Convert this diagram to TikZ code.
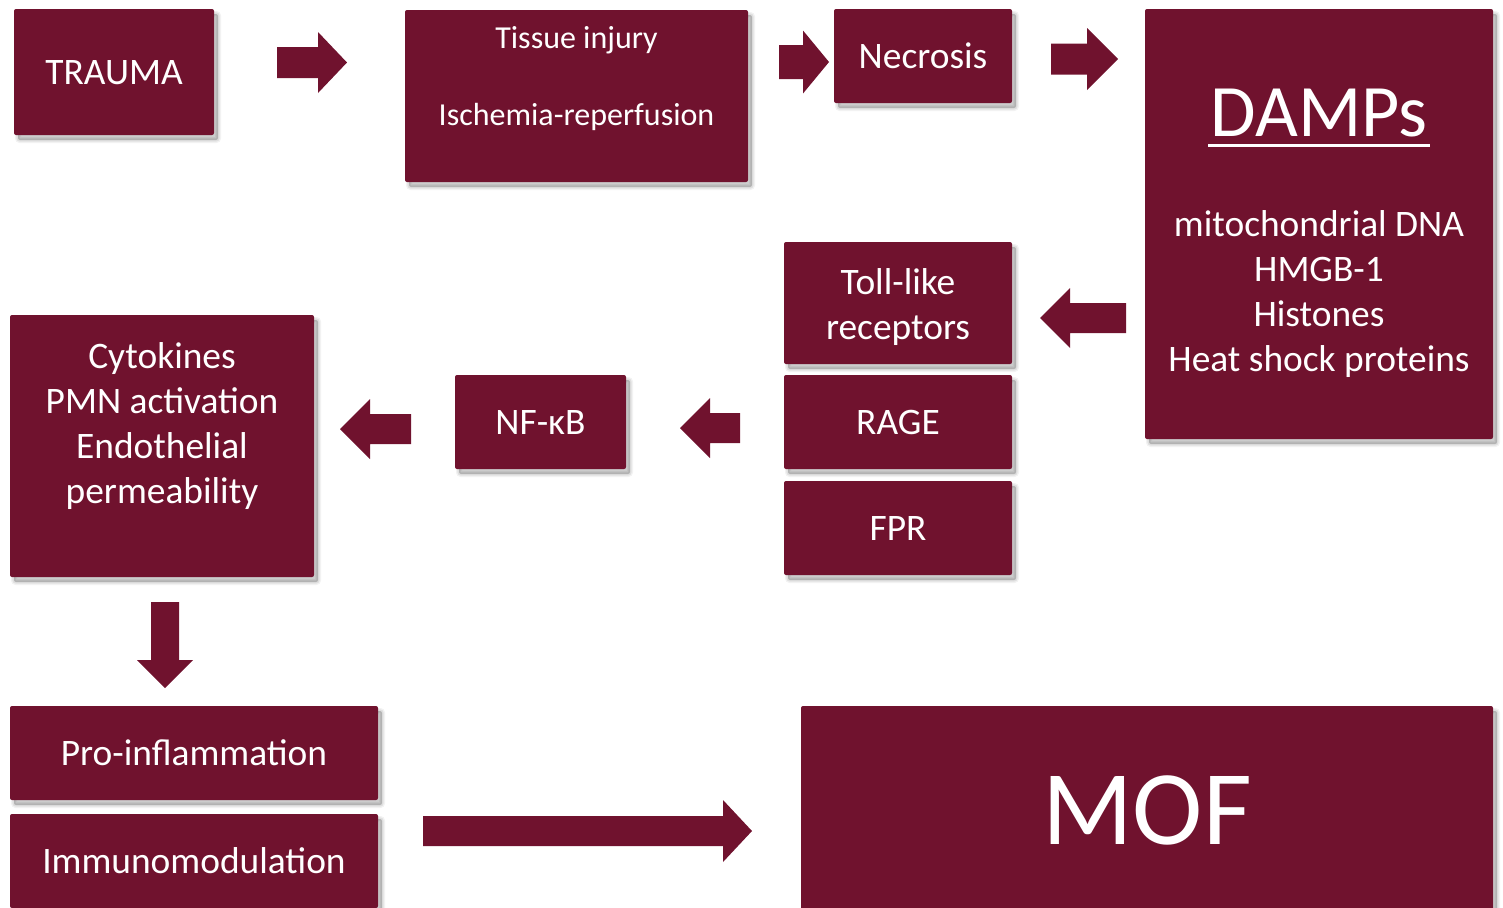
\documentclass[tikz,border=0pt]{standalone}
\usepackage{fontspec}
\setmainfont{Carlito}
\usetikzlibrary{shadows}
\definecolor{wine}{RGB}{112,18,46}
\newcommand\blockH[6]{\fill[wine] (#1,#2-#5) -- (#3,#2-#5) -- (#3,#2-#6) -- (#4,#2) -- (#3,#2+#6) -- (#3,#2+#5) -- (#1,#2+#5) -- cycle;}
\newcommand\blockV[6]{\fill[wine] (#1-#5,#2) -- (#1-#5,#3) -- (#1-#6,#3) -- (#1,#4) -- (#1+#6,#3) -- (#1+#5,#3) -- (#1+#5,#2) -- cycle;}
\tikzset{
  box/.style={fill=wine, draw=none, rounded corners=1pt, inner sep=0pt,
    general shadow={fill=black, draw=black, line width=3pt, draw opacity=0.05, fill opacity=0.0, shadow xshift=2pt, shadow yshift=-2.5pt},
    general shadow={fill=black, draw=black, line width=1.6pt, draw opacity=0.08, fill opacity=0.0, shadow xshift=2pt, shadow yshift=-2.5pt},
    general shadow={fill=black, draw=none, fill opacity=0.2, shadow xshift=2pt, shadow yshift=-2.5pt},
    text=white, align=center, font=\fontsize{18.7}{22.5}\selectfont},
  txt/.style={text=white, align=center, inner sep=0pt, font=\fontsize{18.7}{22.5}\selectfont},
}
\begin{document}
\begin{tikzpicture}[x=0.5pt,y=-0.5pt]
\useasboundingbox (0,0) rectangle (1503,907);
% boxes
\node[box, minimum width=100pt, minimum height=63pt] (trauma) at (114,72) {};
\node[txt] (traumaT) at (114,73) {TRAUMA};
\node[box, minimum width=171.5pt, minimum height=86pt] (tissue) at (576.5,96) {};
\node[txt, font=\fontsize{16}{20}\selectfont] (tissueA) at (576.5,40) {Tissue injury};
\node[txt, font=\fontsize{16}{20}\selectfont] (tissueB) at (576.5,117) {Ischemia-reperfusion};
\node[box, minimum width=89pt, minimum height=47pt] (necrosis) at (923,56) {Necrosis};
\node[box, minimum width=174pt, minimum height=215pt] (damps) at (1319,224) {};
\node[txt, font=\fontsize{37}{40}\selectfont] (dampsT) at (1319,113) {DAMPs};
\draw[white, line width=1.5pt] ([xshift=-1pt,yshift=-4.5pt]dampsT.base west) -- ([xshift=1pt,yshift=-4.5pt]dampsT.base east);
\node[txt] (dampsL) at (1319,294) {mitochondrial DNA\\HMGB-1\\Histones\\Heat shock proteins};
\node[box, minimum width=114pt, minimum height=61pt] (toll) at (898,303) {};
\node[txt] (tollT) at (898,307) {Toll-like\\receptors};
\node[box, minimum width=114pt, minimum height=47pt] (rage) at (898,422) {RAGE};
\node[box, minimum width=114pt, minimum height=47pt] (fpr) at (898,528) {FPR};
\node[box, minimum width=85.5pt, minimum height=47pt] (nfkb) at (540.5,422) {NF-κB};
\node[box, minimum width=152pt, minimum height=131pt] (cyto) at (162,446) {};
\node[txt] (cytoT) at (162,426) {Cytokines\\PMN activation\\Endothelial\\permeability};
\node[box, minimum width=184pt, minimum height=47pt] (proinf) at (194,753) {Pro-inflammation};
\node[box, minimum width=184pt, minimum height=47pt] (immuno) at (194,861) {Immunomodulation};
\node[box, minimum width=346pt, minimum height=104pt, font=\fontsize{53}{60}\selectfont] (mof) at (1147,810) {MOF};
% block arrows
\blockH{277}{62.5}{318}{347}{15.5}{30.5}
\blockH{779}{62}{803}{829}{17}{31.5}
\blockH{1051}{59}{1087}{1118}{15.5}{31}
\blockH{1126}{318}{1070}{1040}{15}{30}
\blockH{740}{428}{710}{680}{15}{30}
\blockH{411}{429}{370}{340}{15}{30}
\blockV{165}{602}{660}{688}{14}{28}
\blockH{423}{831}{723}{752}{15}{31}
\end{tikzpicture}
\end{document}
